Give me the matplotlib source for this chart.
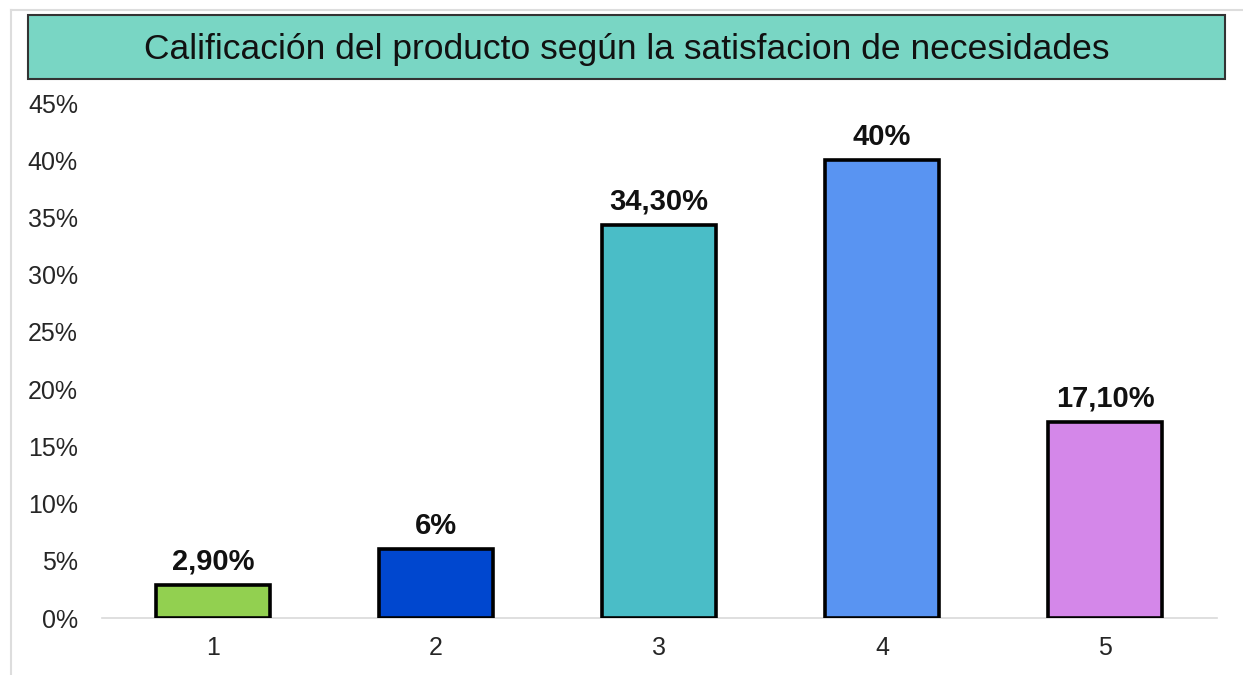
import matplotlib.pyplot as plt
from matplotlib.patches import Rectangle
from matplotlib.lines import Line2D

plt.rcParams['font.family'] = ['Liberation Sans', 'DejaVu Sans']

categorias = ['1', '2', '3', '4', '5']
valores = [2.9, 6.0, 34.3, 40.0, 17.1]
etiquetas = ['2,90%', '6%', '34,30%', '40%', '17,10%']
colores = ['#92d050', '#0047cf', '#4abdc7', '#5994f2', '#d487e9']
ticks_y = [0, 5, 10, 15, 20, 25, 30, 35, 40, 45]

fig = plt.figure(figsize=(12.43, 6.75), dpi=100)
ax = fig.add_axes([0.0817, 0.0844, 0.897, 0.763])

x = list(range(len(categorias)))
bars = ax.bar(x, valores, width=0.51, color=colores, edgecolor='black', linewidth=2.6, zorder=3)

for b, lab in zip(bars, etiquetas):
    ax.annotate(lab, (b.get_x() + b.get_width() / 2, b.get_height()),
                xytext=(0, 7), textcoords='offset points', ha='center', va='bottom',
                fontsize=21, fontweight='bold', color='#111111')

ax.set_xlim(-0.5, 4.5)
ax.set_ylim(0, 45)
ax.set_xticks(x)
ax.set_xticklabels(categorias)
ax.set_yticks(ticks_y)
ax.set_yticklabels([f'{t}%' for t in ticks_y])
ax.tick_params(axis='y', length=0, pad=17, labelsize=18, labelcolor='#262626')
ax.tick_params(axis='x', length=0, pad=13, labelsize=18, labelcolor='#262626')

for s in ['top', 'right', 'left']:
    ax.spines[s].set_visible(False)
ax.spines['bottom'].set_color('#d9d9d9')
ax.spines['bottom'].set_linewidth(1.2)

# title box
fig.patches.append(Rectangle((0.0225, 0.883), 0.963, 0.0948, transform=fig.transFigure,
                             facecolor='#79d6c4', edgecolor='#333333', linewidth=1.5))
fig.text(0.504, 0.927, 'Calificación del producto según la satisfacion de necesidades',
         ha='center', va='center', fontsize=25.5, color='#111111')

# light frame of the sheet
fig.lines.append(Line2D([0.0085, 0.0085], [0, 0.985], transform=fig.transFigure, color='#dddddd', linewidth=1.5))
fig.lines.append(Line2D([0.0085, 1], [0.985, 0.985], transform=fig.transFigure, color='#dddddd', linewidth=1.5))

plt.savefig('out.png', dpi=100)
